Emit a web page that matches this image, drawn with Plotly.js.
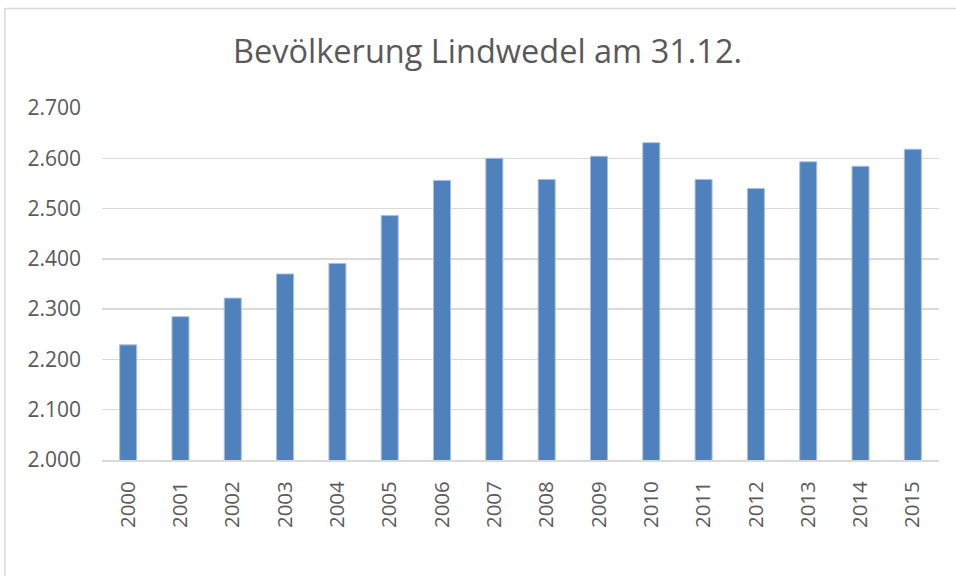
<!DOCTYPE html>
<html>
<head>
<meta charset="utf-8">
<script src="https://cdn.plot.ly/plotly-3.0.1.min.js"></script>
<style>html,body{margin:0;padding:0;background:#fff;}#chart{width:956px;height:576px;}</style>
</head>
<body>
<div id="chart"></div>
<script>
const years = ["2000","2001","2002","2003","2004","2005","2006","2007","2008","2009","2010","2011","2012","2013","2014","2015"];
const population = [2229,2285,2322,2370,2391,2486,2556,2600,2558,2604,2631,2558,2540,2593,2584,2618];
const titleText = "Bevölkerung Lindwedel am 31.12.";

const trace = {
  type: "bar",
  x: years,
  y: population,
  marker: {color: "#4F81BD", line: {color: "#A7BFDE", width: 1}},
  hoverinfo: "x+y"
};

const layout = {
  width: 956, height: 576,
  margin: {l: 102, r: 17, t: 108, b: 116},
  paper_bgcolor: "#ffffff",
  plot_bgcolor: "#ffffff",
  separators: ",.",
  bargap: 0.675,
  showlegend: false,
  font: {family: "Open Sans, Noto Sans, sans-serif", color: "#595959"},
  title: {
    text: titleText,
    font: {size: 32.5, color: "#595959", family: "Open Sans, Noto Sans, sans-serif"},
    x: 0.51, xanchor: "center", y: 0.91, yanchor: "middle"
  },
  xaxis: {
    type: "category",
    tickangle: -90,
    tickfont: {size: 20.5, color: "#595959"},
    showgrid: false,
    showline: true, linecolor: "#D9D9D9", linewidth: 2,
    ticks: "",
    ticklabelstandoff: 11,
    zeroline: false
  },
  yaxis: {
    range: [2000, 2700],
    dtick: 100,
    tick0: 2000,
    tickformat: ",d",
    tickfont: {size: 21, color: "#595959"},
    gridcolor: "#D9D9D9", gridwidth: 1.5,
    showline: false, zeroline: false,
    ticks: "",
    ticklabelstandoff: 20
  },
  shapes: [{
    type: "rect", xref: "paper", yref: "paper",
    x0: -0.116, x1: 1.05, y0: -0.4, y1: 1.2827,
    line: {color: "#D9D9D9", width: 1.5},
    fillcolor: "rgba(0,0,0,0)",
    layer: "below"
  }]
};

Plotly.newPlot("chart", [trace], layout, {displayModeBar: false, staticPlot: true});
</script>
</body>
</html>
